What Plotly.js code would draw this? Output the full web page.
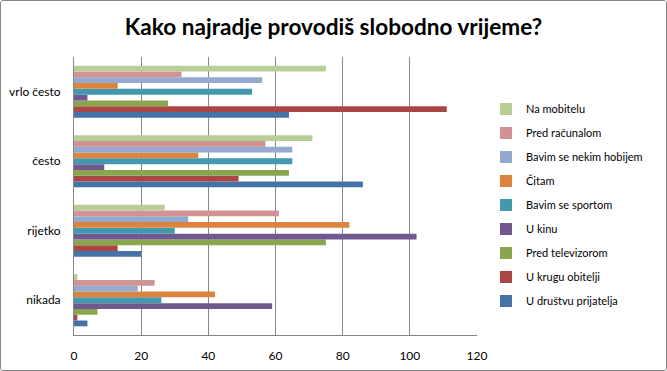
<!DOCTYPE html>
<html>
<head>
<meta charset="utf-8">
<script src="https://cdn.plot.ly/plotly-3.0.1.min.js"></script>
<style>
html,body{margin:0;padding:0;background:#fff;}
#frame{position:absolute;left:0;top:0;width:665px;height:369px;border:1px solid #868686;border-radius:3px;overflow:hidden;}
#chart{width:665px;height:369px;}
</style>
</head>
<body>
<div id="frame"><div id="chart"></div></div>
<script>
const categories = ['nikada', 'rijetko', 'često', 'vrlo često'];

const seriesNames = [
  'U društvu prijatelja',
  'U krugu obitelji',
  'Pred televizorom',
  'U kinu',
  'Bavim se sportom',
  'Čitam',
  'Bavim se nekim hobijem',
  'Pred računalom',
  'Na mobitelu'
];

// values per series, in category order: nikada, rijetko, često, vrlo često
const uDrustvuPrijatelja = [4, 20, 86, 64];
const uKruguObitelji     = [1, 13, 49, 111];
const predTelevizorom    = [7, 75, 64, 28];
const uKinu              = [59, 102, 9, 4];
const bavimSeSportom     = [26, 30, 65, 53];
const citam              = [42, 82, 37, 13];
const bavimSeHobijem     = [19, 34, 65, 56];
const predRacunalom      = [24, 61, 57, 32];
const naMobitelu         = [1, 27, 71, 75];

const seriesValues = [uDrustvuPrijatelja, uKruguObitelji, predTelevizorom, uKinu,
  bavimSeSportom, citam, bavimSeHobijem, predRacunalom, naMobitelu];

const colors = ['#4572A7', '#AA4643', '#89A54E', '#71588F', '#4198AF',
  '#DB843D', '#93A9CF', '#D19392', '#B9CD96'];

const xTicks = [0, 20, 40, 60, 80, 100, 120];

const FONT = 'Lato, "Liberation Sans", sans-serif';

const traces = seriesNames.map((name, i) => ({
  type: 'bar',
  orientation: 'h',
  name: name,
  y: categories,
  x: seriesValues[i],
  legendgroup: 'g' + i,
  legendrank: 1000 - i,
  marker: {color: colors[i], line: {width: 0}},
  hoverinfo: 'x+name'
}));

const layout = {
  width: 665,
  height: 369,
  margin: {l: 73, r: 189, t: 56, b: 35},
  paper_bgcolor: '#ffffff',
  plot_bgcolor: '#ffffff',
  font: {family: FONT, size: 12, color: '#000000'},
  title: {
    text: '<b>Kako najradje provodiš slobodno vrijeme?</b>',
    font: {family: FONT, size: 22.6, color: '#000000'},
    x: 0.5, xanchor: 'center',
    y: 1 - 26 / 369, yref: 'container', yanchor: 'middle'
  },
  barmode: 'group',
  bargap: 0.25,
  bargroupgap: 0,
  xaxis: {
    range: [0, 120],
    tickvals: xTicks,
    ticktext: xTicks.map(String),
    showgrid: true,
    gridcolor: '#868686',
    gridwidth: 1,
    showline: true,
    linecolor: '#868686',
    linewidth: 1,
    zeroline: false,
    ticks: '',
    ticklabelstandoff: 10,
    tickfont: {family: FONT, size: 12, color: '#000'},
    automargin: false,
    fixedrange: true
  },
  yaxis: {
    type: 'category',
    showgrid: false,
    showline: true,
    linecolor: '#868686',
    linewidth: 1,
    zeroline: false,
    ticks: '',
    ticklabelstandoff: 10,
    tickfont: {family: FONT, size: 12, color: '#000'},
    automargin: false,
    fixedrange: true
  },
  legend: {
    traceorder: 'grouped',
    tracegroupgap: 5,
    xref: 'container',
    x: 485 / 665, xanchor: 'left',
    yref: 'paper',
    y: 0.468, yanchor: 'middle',
    font: {family: FONT, size: 11, color: '#000'},
    bgcolor: 'rgba(0,0,0,0)',
    itemwidth: 30
  },
  showlegend: true
};

Plotly.newPlot('chart', traces, layout, {displayModeBar: false, staticPlot: true});
</script>
</body>
</html>
